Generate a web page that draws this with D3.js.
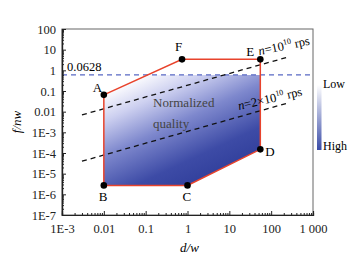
<!DOCTYPE html>
<html>
<head>
<meta charset="utf-8">
<script src="https://cdn.jsdelivr.net/npm/d3@7"></script>
<style>
  body { margin: 0; background: #fff; }
  svg text { font-family: 'Liberation Serif', 'Times New Roman', serif; }
</style>
</head>
<body>
<div id="chart"></div>
<script>
// axis ticks
const xTicks = [1e-3, 1e-2, 0.1, 1, 10, 100, 1000];
const xTickLabels = ['1E-3', '0.01', '0.1', '1', '10', '100', '1 000'];
const yTicks = [1e-7, 1e-6, 1e-5, 1e-4, 1e-3, 1e-2, 0.1, 1, 10, 100];
const yTickLabels = ['1E-7', '1E-6', '1E-5', '1E-4', '1E-3', '0.01', '0.1', '1', '10', '100'];

// boundary corners, in drawing order
const cornerNames = ['A', 'F', 'E', 'D', 'C', 'B'];
const cornerX = [0.01, 0.74, 55, 55, 1, 0.01];
const cornerY = [0.065, 3.4, 3.4, 1.5e-4, 2.7e-6, 2.7e-6];

// threshold line
const thresholdY = 0.6;
const thresholdLabel = '0.0628';

// constant speed lines [x0, y0, x1, y1]
const speedLine1 = [0.003, 0.007, 263, 4.5];
const speedLine2 = [0.003, 4e-5, 263, 0.027];

const FONT = "'Liberation Serif', 'Times New Roman', serif";
const W = 364, H = 260;
const margin = {top: 29, right: 51, bottom: 45, left: 62};
const width = W - margin.left - margin.right;
const height = H - margin.top - margin.bottom;

const svg = d3.select('#chart').append('svg')
    .attr('width', W).attr('height', H);

const defs = svg.append('defs');

// quality gradient, chart coordinates
const gl = defs.append('linearGradient')
    .attr('id', 'quality')
    .attr('gradientUnits', 'userSpaceOnUse')
    .attr('x1', 108 - margin.left).attr('y1', 76 - margin.top)
    .attr('x2', 163 - margin.left).attr('y2', 194 - margin.top);
[[0, '#ffffff'], [0.1, '#ffffff'], [0.3, '#cdd0f0'], [0.55, '#7e88cd'], [0.85, '#3d4ba6'], [1, '#34429e']]
  .forEach(s => gl.append('stop').attr('offset', s[0]).attr('stop-color', s[1]));

const barGrad = defs.append('linearGradient')
    .attr('id', 'bar').attr('x1', 0).attr('y1', 0).attr('x2', 0).attr('y2', 1);
barGrad.append('stop').attr('offset', '0').attr('stop-color', '#ffffff');
barGrad.append('stop').attr('offset', '1').attr('stop-color', '#3a4ca8');

const chart = svg.append('g')
    .attr('transform', `translate(${margin.left},${margin.top})`);

const x = d3.scaleLog().domain([1e-3, 1e3]).range([0, width]);
const y = d3.scaleLog().domain([1e-7, 1e2]).range([height, 0]);

defs.append('clipPath').attr('id', 'below')
  .append('rect')
    .attr('x', 0).attr('y', y(thresholdY))
    .attr('width', width).attr('height', height - y(thresholdY));

const corners = cornerNames.map((n, i) => ({name: n, x: cornerX[i], y: cornerY[i]}));
const poly = d3.line().x(d => x(d.x)).y(d => y(d.y));

// shaded region under threshold
chart.append('path')
    .attr('d', poly(corners) + 'Z')
    .attr('fill', 'url(#quality)')
    .attr('clip-path', 'url(#below)');

// frame
chart.append('rect')
    .attr('width', width).attr('height', height)
    .attr('fill', 'none').attr('stroke', '#666').attr('stroke-width', 1);

// threshold dashed line
chart.append('line')
    .attr('x1', 0).attr('x2', width)
    .attr('y1', y(thresholdY)).attr('y2', y(thresholdY))
    .attr('stroke', '#5868c4').attr('stroke-width', 1.4)
    .attr('stroke-dasharray', '5,4');
chart.append('text')
    .attr('x', 5).attr('y', y(thresholdY) - 4)
    .attr('font-size', 12.5).text(thresholdLabel);

chart.append('text')
    .attr('x', x(0.15)).attr('y', y(0.017))
    .attr('font-size', 13).attr('fill', '#444')
    .text('Normalized');
chart.append('text')
    .attr('x', x(0.15)).attr('y', y(0.0016))
    .attr('font-size', 13).attr('fill', '#444')
    .text('quality');

// constant speed lines
[speedLine1, speedLine2].forEach(l => {
  chart.append('line')
      .attr('x1', x(l[0])).attr('y1', y(l[1]))
      .attr('x2', x(l[2])).attr('y2', y(l[3]))
      .attr('stroke', '#111').attr('stroke-width', 1.3)
      .attr('stroke-dasharray', '5,4');
});

// boundary
chart.append('path')
    .attr('d', poly(corners) + 'Z')
    .attr('fill', 'none')
    .attr('stroke', '#e8432c').attr('stroke-width', 1.5);

chart.selectAll('.corner')
    .data(corners)
    .join('circle')
    .attr('class', 'corner')
    .attr('cx', d => x(d.x)).attr('cy', d => y(d.y))
    .attr('r', 3.3).attr('fill', '#000');

const labelOffset = {A: [-11, -3], F: [-7, -8], E: [-14, -3], D: [5, 7], C: [-5, 16], B: [-5, 16]};
chart.selectAll('.corner-label')
    .data(corners)
    .join('text')
    .attr('class', 'corner-label')
    .attr('x', d => x(d.x) + labelOffset[d.name][0])
    .attr('y', d => y(d.y) + labelOffset[d.name][1])
    .attr('font-size', 13)
    .text(d => d.name);

// speed labels
const s1 = chart.append('text')
    .attr('font-size', 12.5)
    .attr('transform', `translate(${x(55) - 1},${y(3.4) - 4}) rotate(-12)`);
s1.append('tspan').attr('font-style', 'italic').text('n');
s1.append('tspan').text('=10');
s1.append('tspan').attr('font-size', 8).attr('dy', -5).text('10');
s1.append('tspan').attr('dy', 5).text(' rps');

const s2 = chart.append('text')
    .attr('font-size', 12.5)
    .attr('transform', `translate(${x(17)},${y(0.012)}) rotate(-13)`);
s2.append('tspan').attr('font-style', 'italic').text('n');
s2.append('tspan').text('=2\u00d710');
s2.append('tspan').attr('font-size', 8).attr('dy', -5).text('10');
s2.append('tspan').attr('dy', 5).text(' rps');

// axes with inward ticks
const minorX = x.ticks().filter(v => !xTicks.some(t => Math.abs(t - v) / t < 1e-6));
const minorY = y.ticks().filter(v => !yTicks.some(t => Math.abs(t - v) / t < 1e-6));

const xAxis = d3.axisBottom(x).tickValues(xTicks)
    .tickFormat((d, i) => xTickLabels[i]).tickSize(-4).tickPadding(9);
const xMinor = d3.axisBottom(x).tickValues(minorX).tickFormat('').tickSize(-2);
const yAxis = d3.axisLeft(y).tickValues(yTicks)
    .tickFormat((d, i) => yTickLabels[i]).tickSize(-4).tickPadding(6);
const yMinor = d3.axisLeft(y).tickValues(minorY).tickFormat('').tickSize(-2);

const xg = chart.append('g').attr('transform', `translate(0,${height})`).call(xAxis);
chart.append('g').attr('transform', `translate(0,${height})`).call(xMinor);
const yg = chart.append('g').call(yAxis);
chart.append('g').call(yMinor);

chart.selectAll('.domain').attr('stroke', '#222').attr('stroke-width', 1.2);
chart.selectAll('.tick line').attr('stroke', '#222');
xg.selectAll('text').attr('font-size', 12.5).attr('fill', '#222');
yg.selectAll('text').attr('font-size', 12.5).attr('fill', '#222');

// axis titles
svg.append('text')
    .attr('x', margin.left + width / 2 + 2).attr('y', 252)
    .attr('text-anchor', 'middle').attr('font-size', 13).attr('font-style', 'italic')
    .text('d/w');
svg.append('text')
    .attr('transform', `translate(21,${margin.top + 93}) rotate(-90)`)
    .attr('text-anchor', 'middle').attr('font-size', 13).attr('font-style', 'italic')
    .text('f/nw');

// colour bar
svg.append('rect')
    .attr('x', 317).attr('y', 85).attr('width', 4.5).attr('height', 65)
    .attr('fill', 'url(#bar)');
svg.append('text').attr('x', 323).attr('y', 88).attr('font-size', 12).text('Low');
svg.append('text').attr('x', 323).attr('y', 150).attr('font-size', 12).text('High');

svg.selectAll('text').style('font-family', FONT);
</script>
</body>
</html>
